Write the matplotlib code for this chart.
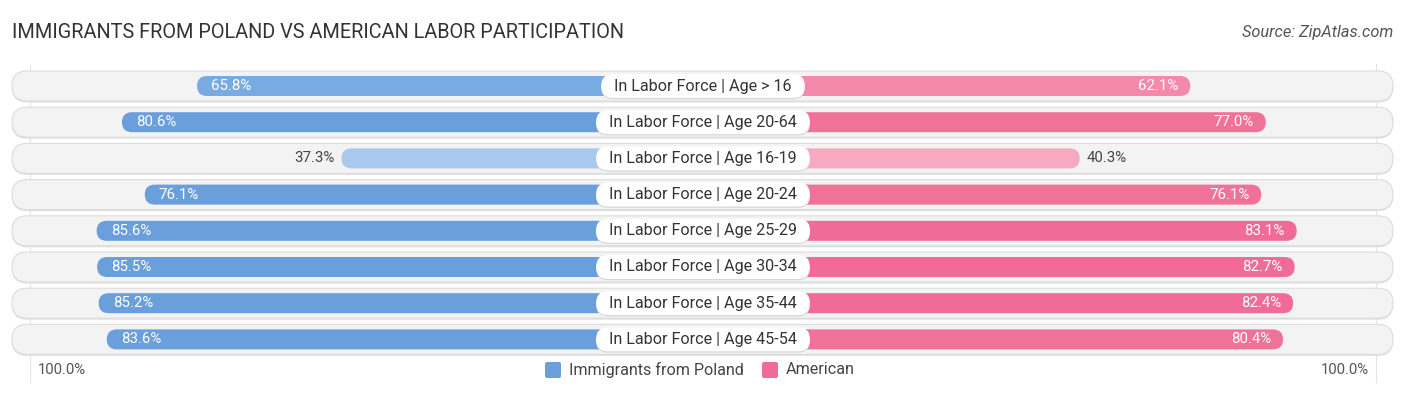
import matplotlib
matplotlib.use("Agg")
import matplotlib.pyplot as plt
from matplotlib.patches import FancyBboxPatch

categories = ["In Labor Force | Age > 16", "In Labor Force | Age 20-64", "In Labor Force | Age 16-19",
              "In Labor Force | Age 20-24", "In Labor Force | Age 25-29", "In Labor Force | Age 30-34",
              "In Labor Force | Age 35-44", "In Labor Force | Age 45-54"]
poland = [65.8, 80.6, 37.3, 76.1, 85.6, 85.5, 85.2, 83.6]
american = [62.1, 77.0, 40.3, 76.1, 83.1, 82.7, 82.4, 80.4]
poland_colors = ["#7aabe0", "#6a9fdc", "#a9c8ec", "#6a9fdc", "#6a9fdc", "#6a9fdc", "#6a9fdc", "#6a9fdc"]
american_colors = ["#f48aab", "#f07298", "#f7a9c1", "#f07298", "#f06b97", "#f06b97", "#f06b97", "#f07298"]
series_names = ["Immigrants from Poland", "American"]
legend_colors = ["#6a9fdc", "#f06b97"]
title = "IMMIGRANTS FROM POLAND VS AMERICAN LABOR PARTICIPATION"
source = "Source: ZipAtlas.com"
axis_label = "100.0%"

W, H = 1406, 395
fig = plt.figure(figsize=(W / 100, H / 100), dpi=100)
ax = fig.add_axes([0, 0, 1, 1])
ax.axis("off")

PX_PER_UNIT = 5.07        # pixels per percentage point
ROW_PX = 36.2             # pixels per row
CENTER_PX = 703
FIRST_ROW_PX = 86
ax.set_xlim(-CENTER_PX / PX_PER_UNIT, (W - CENTER_PX) / PX_PER_UNIT)
ax.set_ylim((H - FIRST_ROW_PX) / ROW_PX, -FIRST_ROW_PX / ROW_PX)

aspect = PX_PER_UNIT / ROW_PX
GAP = 34.0


def px_x(p):
    return p / PX_PER_UNIT


def px_y(p):
    return p / ROW_PX


def pill(x0, x1, yc, h_px, fc, ec="none", lw=0, z=1):
    h = px_y(h_px)
    r = px_x(h_px / 2)
    p = FancyBboxPatch((x0, yc - h / 2), x1 - x0, h,
                       boxstyle=f"round,pad=0,rounding_size={r}",
                       mutation_aspect=aspect, fc=fc, ec=ec, lw=lw, zorder=z)
    ax.add_patch(p)
    return p


fig.canvas.draw()
renderer = fig.canvas.get_renderer()

font = "Roboto"

# faint 100% guide lines
for xg in [-px_x(703 - 30), px_x(1376 - 703)]:
    ax.plot([xg, xg], [px_y(64 - FIRST_ROW_PX), px_y(382 - FIRST_ROW_PX)],
            color="#e4e4e4", lw=0.8, zorder=0)

for i, cat in enumerate(categories):
    y = i
    pill(-px_x(691), px_x(690), y + px_y(1.5), 30, "#e0e0e0", z=1)
    pill(-px_x(691), px_x(690), y, 30, "#f3f3f3", ec="#dcdcdc", lw=0.8, z=1.1)

    lv = poland[i]
    rv = american[i]
    pill(-(GAP + lv), 0, y, 20, poland_colors[i], z=2)
    pill(0, GAP + rv, y, 20, american_colors[i], z=2)

    if lv >= 50:
        ax.text(-(GAP + lv) + px_x(14), y, f"{lv:.1f}%", ha="left", va="center",
                color="white", fontsize=10.8, family=font, zorder=5)
    else:
        ax.text(-(GAP + lv) - px_x(7), y, f"{lv:.1f}%", ha="right", va="center",
                color="#444444", fontsize=10.8, family=font, zorder=5)
    if rv >= 50:
        ax.text(GAP + rv - px_x(12), y, f"{rv:.1f}%", ha="right", va="center",
                color="white", fontsize=10.8, family=font, zorder=5)
    else:
        ax.text(GAP + rv + px_x(7), y, f"{rv:.1f}%", ha="left", va="center",
                color="#444444", fontsize=10.8, family=font, zorder=5)

    t = ax.text(0, y, cat, ha="center", va="center", color="#333333",
                fontsize=11.6, family=font, zorder=7)
    bb = t.get_window_extent(renderer=renderer)
    half_w = bb.width / 2 + 13
    pill(-px_x(half_w), px_x(half_w), y + px_y(1.2), 24, "#d6d6d6", z=5.5)
    pill(-px_x(half_w), px_x(half_w), y, 24, "white", z=6)

fig.text(12 / W, 1 - 33 / H, title, ha="left", va="center", fontsize=14.3,
         color="#333333", family=font)
fig.text(1393 / W, 1 - 33 / H, source, ha="right", va="center", fontsize=11.8,
         color="#555555", family=font, style="italic")

ax.text(-px_x(703 - 38), px_y(370 - FIRST_ROW_PX), axis_label, ha="left", va="center",
        fontsize=10.7, color="#555555", family=font)
ax.text(px_x(1369 - 703), px_y(370 - FIRST_ROW_PX), axis_label, ha="right", va="center",
        fontsize=10.7, color="#555555", family=font)

ly = px_y(370 - FIRST_ROW_PX)
for name, col, xs in zip(series_names, legend_colors, [545, 762]):
    x0 = px_x(xs - CENTER_PX)
    ax.add_patch(FancyBboxPatch((x0, ly - px_y(8)), px_x(16), px_y(16),
                                boxstyle=f"round,pad=0,rounding_size={px_x(2)}",
                                mutation_aspect=aspect, fc=col, ec="none", zorder=3))
    ax.text(x0 + px_x(24), ly, name, ha="left", va="center", fontsize=11.6,
            color="#444444", family=font)

fig.savefig("out.png", dpi=100)
